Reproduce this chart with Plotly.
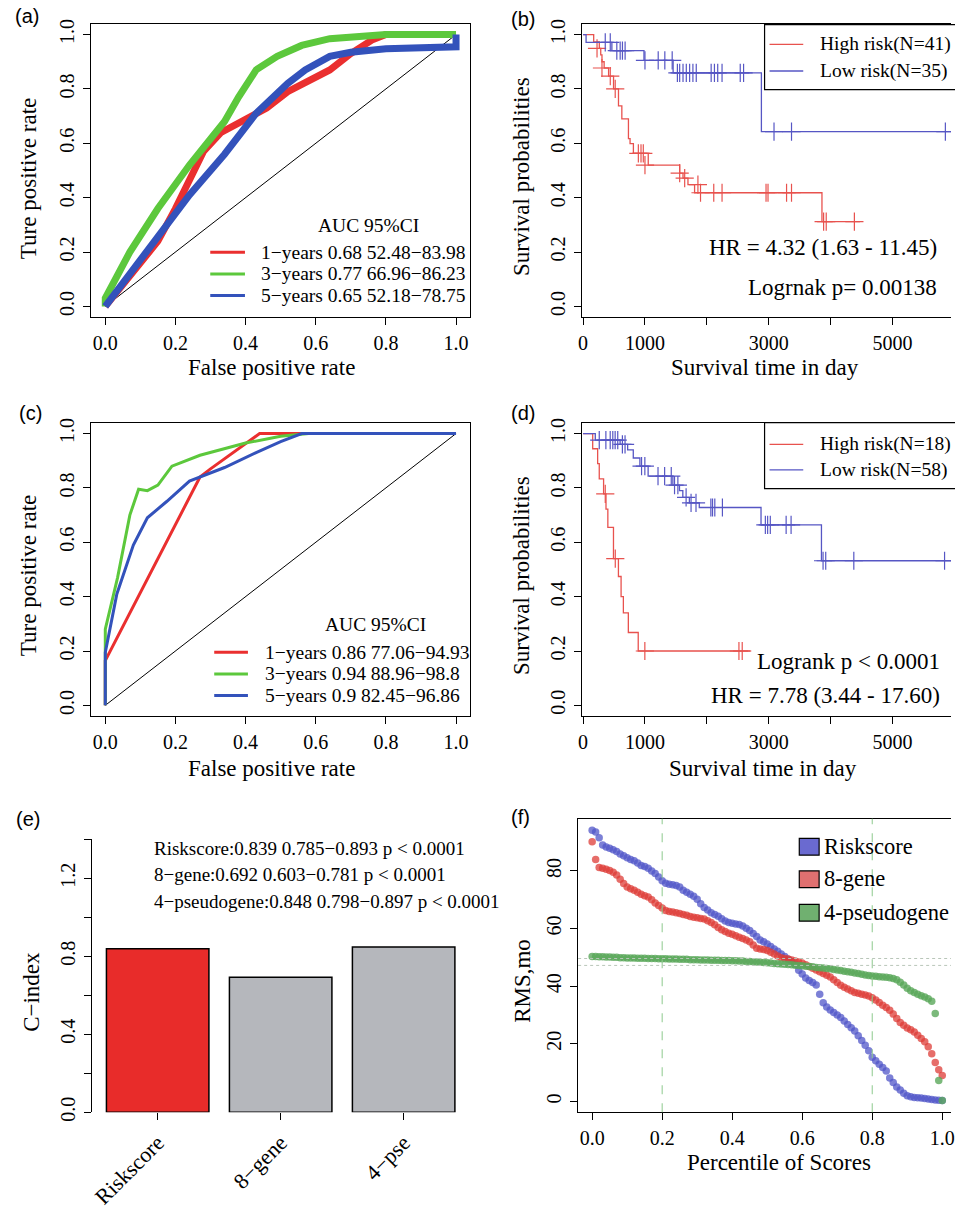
import plotly.graph_objects as go

W, H = 955, 1209
SERIF = "Liberation Serif, Times New Roman, serif"
SANS = "Liberation Sans, Arial, sans-serif"

# ---------------- (a) ROC, training set ----------------
roc_a_fpr_1y = [0, 0.05, 0.1, 0.15, 0.2, 0.25, 0.28, 0.33, 0.4, 0.46, 0.52, 0.58, 0.64, 0.7, 0.76, 0.8, 1.0]
roc_a_tpr_1y = [0, 0.08, 0.16, 0.24, 0.36, 0.5, 0.57, 0.64, 0.69, 0.73, 0.79, 0.83, 0.87, 0.93, 0.98, 1.0, 1.0]
roc_a_fpr_3y = [0, 0, 0.07, 0.15, 0.24, 0.34, 0.38, 0.43, 0.49, 0.56, 0.64, 0.75, 0.8, 1.0]
roc_a_tpr_3y = [0, 0.03, 0.2, 0.36, 0.52, 0.68, 0.77, 0.87, 0.92, 0.96, 0.985, 0.998, 1.0, 1.0]
roc_a_fpr_5y = [0, 0.15, 0.24, 0.34, 0.43, 0.52, 0.57, 0.64, 0.7, 0.8, 0.9, 1.0, 1.0]
roc_a_tpr_5y = [0, 0.255, 0.41, 0.56, 0.71, 0.82, 0.87, 0.92, 0.935, 0.948, 0.953, 0.955, 1.0]
roc_a_labels = ["1\u2212years 0.68 52.48\u221283.98",
                "3\u2212years 0.77 66.96\u221286.23",
                "5\u2212years 0.65 52.18\u221278.75"]

# ---------------- (b) KM, training set ----------------
km_b_high_t = [0, 171, 262, 285, 305, 340, 412, 492, 572, 626, 733, 759, 813, 1053, 1561, 1615, 1695, 1802, 3861, 4476]
km_b_high_s = [1, 0.973, 0.949, 0.925, 0.90, 0.877, 0.847, 0.80, 0.738, 0.69, 0.617, 0.599, 0.563, 0.52, 0.49, 0.472, 0.448, 0.418, 0.312, 0.312]
km_b_high_ct = [225, 305, 439, 519, 893, 936, 973, 1000, 1561, 1642, 1856, 1898, 2112, 2246, 2957, 2989, 3289, 3369, 3888, 3930, 4385]
km_b_high_cs = [0.949, 0.877, 0.847, 0.80, 0.563, 0.563, 0.563, 0.52, 0.49, 0.472, 0.448, 0.418, 0.418, 0.418, 0.418, 0.418, 0.418, 0.418, 0.312, 0.312, 0.312]
km_b_low_t = [0, 48, 465, 984, 1455, 2882, 5947]
km_b_low_s = [1, 0.971, 0.941, 0.905, 0.859, 0.643, 0.643]
km_b_low_ct = [358, 439, 545, 599, 636, 679, 1000, 1214, 1321, 1440, 1524, 1561, 1615, 1668, 1722, 1775, 1829,
               2070, 2123, 2176, 2246, 2540, 2594, 3086, 3369, 5856]
km_b_low_cs = [0.971, 0.971, 0.941, 0.941, 0.941, 0.941, 0.905, 0.905, 0.905, 0.905, 0.859, 0.859, 0.859, 0.859,
               0.859, 0.859, 0.859, 0.859, 0.859, 0.859, 0.859, 0.859, 0.859, 0.643, 0.643, 0.643]

# ---------------- (c) ROC, validation set ----------------
roc_c_fpr_1y = [0, 0, 0.27, 0.3, 0.44, 1.0]
roc_c_tpr_1y = [0, 0.165, 0.84, 0.87, 1.0, 1.0]
roc_c_fpr_3y = [0, 0, 0.035, 0.07, 0.095, 0.12, 0.15, 0.19, 0.27, 0.4, 0.5, 0.58, 1.0]
roc_c_tpr_3y = [0, 0.28, 0.47, 0.7, 0.795, 0.79, 0.81, 0.88, 0.92, 0.965, 0.99, 1.0, 1.0]
roc_c_fpr_5y = [0, 0, 0.033, 0.08, 0.12, 0.175, 0.24, 0.34, 0.43, 0.5, 0.56, 1.0]
roc_c_tpr_5y = [0, 0.195, 0.41, 0.59, 0.69, 0.75, 0.825, 0.875, 0.93, 0.97, 1.0, 1.0]
roc_c_labels = ["1\u2212years 0.86 77.06\u221294.93",
                "3\u2212years 0.94 88.96\u221298.8",
                "5\u2212years 0.9 82.45\u221296.86"]

# ---------------- (d) KM, validation set ----------------
km_d_high_t = [0, 155, 235, 261, 331, 370, 400, 491, 571, 614, 651, 731, 891, 2705]
km_d_high_s = [1, 0.944, 0.889, 0.833, 0.778, 0.722, 0.655, 0.54, 0.474, 0.40, 0.34, 0.268, 0.2, 0.2]
km_d_high_ct = [358, 520, 998, 2519, 2572]
km_d_high_cs = [0.778, 0.54, 0.2, 0.2, 0.2]
km_d_low_t = [0, 197, 598, 720, 811, 918, 1051, 1451, 1558, 1612, 1718, 1878, 2876, 3853, 5947]
km_d_low_s = [1, 0.976, 0.96, 0.94, 0.91, 0.88, 0.843, 0.81, 0.79, 0.765, 0.745, 0.728, 0.664, 0.532, 0.532]
km_d_low_ct = [261, 368, 438, 480, 518, 560, 635, 678, 945, 998, 1211, 1318, 1425, 1478, 1532, 1665, 1745, 1825,
               2065, 2092, 2129, 2252, 2946, 2983, 3026, 3282, 3362, 3879, 3922, 4376, 5843]
km_d_low_cs = [0.976, 0.976, 0.976, 0.976, 0.976, 0.976, 0.96, 0.96, 0.88, 0.88, 0.843, 0.843, 0.843, 0.81, 0.81,
               0.765, 0.745, 0.745, 0.728, 0.728, 0.728, 0.728, 0.664, 0.664, 0.664, 0.664, 0.664, 0.532, 0.532,
               0.532, 0.532]

# ---------------- (e) C-index ----------------
cindex_names = ["Riskscore", "8\u2212gene", "4\u2212pse"]
cindex_values = [0.839, 0.692, 0.848]
cindex_notes = ["Riskscore:0.839 0.785\u22120.893 p < 0.0001",
                "8\u2212gene:0.692 0.603\u22120.781 p < 0.0001",
                "4\u2212pseudogene:0.848 0.798\u22120.897 p < 0.0001"]

# ---------------- (f) RMS curves ----------------
percentile = [i / 100 for i in range(101)]
rms_riskscore = [94.1, 93.5, 91.5, 89.0, 88.3, 87.9, 87.3, 86.7, 85.9, 85.3,
                 84.6, 84.0, 83.5, 82.7, 81.9, 81.5, 80.9, 80.0, 79.1, 77.9,
                 76.6, 75.7, 75.4, 75.2, 74.9, 74.4, 73.3, 72.6, 71.9, 71.2,
                 70.2, 68.6, 67.3, 66.4, 65.5, 64.9, 64.3, 63.4, 62.6, 62.1,
                 61.8, 61.6, 61.4, 60.9, 60.1, 59.3, 58.3, 57.2, 56.0, 55.4,
                 54.6, 53.8, 52.9, 52.1, 51.2, 50.3, 49.3, 48.6, 47.6, 45.5,
                 44.2, 42.8, 42.0, 41.3, 40.4, 37.2, 34.2, 32.8, 31.7, 30.9,
                 30.0, 29.1, 27.9, 26.7, 25.6, 24.4, 22.8, 21.1, 19.5, 17.6,
                 15.3, 14.1, 12.9, 11.8, 10.6, 8.1, 6.6, 5.0, 4.0, 2.8,
                 2.0, 1.6, 1.4, 1.3, 1.2, 1.0, 0.8, 0.7, 0.5, 0.4, 0.3]
rms_8gene = [90.1, 84.0, 81.2, 80.9, 80.6, 80.1, 79.5, 78.6, 77.1, 75.6,
             74.4, 73.8, 73.3, 72.6, 71.9, 71.4, 70.9, 70.0, 68.9, 68.0,
             67.1, 66.3, 65.9, 65.7, 65.5, 65.2, 64.9, 64.6, 64.2, 63.9,
             63.7, 63.5, 63.3, 62.7, 62.1, 61.3, 60.4, 59.6, 59.0, 58.4,
             58.0, 57.5, 57.0, 56.5, 56.0, 55.4, 54.3, 53.2, 52.9, 52.7,
             52.4, 51.8, 51.2, 50.5, 49.9, 49.6, 49.4, 49.1, 48.7, 48.4,
             48.0, 47.4, 46.8, 46.2, 45.6, 45.0, 44.4, 43.8, 43.2, 42.2,
             41.3, 40.3, 39.6, 39.0, 38.4, 37.8, 37.5, 37.2, 36.9, 36.6,
             36.0, 35.2, 34.3, 33.4, 32.6, 31.6, 30.3, 28.8, 27.4, 26.4,
             25.5, 24.9, 24.1, 23.0, 21.8, 20.7, 19.0, 16.5, 13.5, 11.0, 9.0]
rms_4pseudogene = [50.3, 50.3, 50.2, 50.2, 50.1, 50.1, 50.0, 50.0, 49.9, 49.9,
                   49.8, 49.8, 49.8, 49.7, 49.7, 49.7, 49.6, 49.6, 49.6, 49.5,
                   49.5, 49.5, 49.4, 49.4, 49.4, 49.3, 49.3, 49.3, 49.2, 49.2,
                   49.2, 49.1, 49.1, 49.1, 49.0, 49.0, 49.0, 48.9, 48.9, 48.9,
                   48.8, 48.8, 48.7, 48.7, 48.6, 48.6, 48.5, 48.4, 48.3, 48.2,
                   48.1, 48.0, 47.9, 47.8, 47.7, 47.6, 47.5, 47.4, 47.3, 47.2,
                   47.1, 46.9, 46.8, 46.7, 46.5, 46.4, 46.3, 46.1, 46.0, 45.8,
                   45.6, 45.4, 45.2, 45.0, 44.8, 44.6, 44.4, 44.1, 43.9, 43.7,
                   43.5, 43.4, 43.3, 43.2, 43.1, 42.9, 42.7, 42.2, 41.4, 40.4,
                   39.3, 38.4, 37.8, 37.2, 36.7, 36.2, 35.6, 34.8, 30.5, 7.3, 0.3]
rms_names = ["Riskscore", "8-gene", "4-pseudogene"]
rms_hlines = [49.6, 47.2]
rms_vlines = [0.2, 0.8]

ROC_COLORS = ["#ea2f2f", "#5cc83c", "#3352bb"]
KM_RED, KM_BLUE = "#e8524e", "#5656c4"
PT_COLORS = ["rgba(80,85,200,0.75)", "rgba(222,60,55,0.75)", "rgba(90,168,90,0.8)"]
LEG_COLORS = ["#6a6ad0", "#e07070", "#70b070"]


# screen pixel -> paper fraction
def px(x):
    return x / W


def py(y):
    return 1 - y / H


def axis(domain, rng, tickvals, ticktext=None, anchor=None, mirror=False, angle=0, showline=True, size=20):
    d = dict(domain=domain, range=rng, tickvals=tickvals, anchor=anchor,
             showline=showline, linecolor="black", linewidth=1, mirror=mirror,
             ticks="outside", ticklen=7, tickwidth=1, tickcolor="black",
             showgrid=False, zeroline=False, tickangle=angle,
             tickfont=dict(family=SERIF, size=size, color="black"),
             ticklabeloverflow="allow", ticklabelstandoff=1)
    if ticktext is not None:
        d["ticktext"] = ticktext
    return d


fig = go.Figure()


def text(x, y, s, size=23, anchor="center", angle=0, family=SERIF):
    fig.add_annotation(x=px(x), y=py(y), xref="paper", yref="paper", text=s, showarrow=False,
                       xanchor=anchor, yanchor="middle", textangle=angle, borderpad=0,
                       font=dict(family=family, size=size, color="black"))


def seg(x0, y0, x1, y1, color, width):
    fig.add_shape(type="line", xref="paper", yref="paper", x0=px(x0), y0=py(y0), x1=px(x1), y1=py(y1),
                  line=dict(color=color, width=width))


# ROC panels
for xa, ya, fprs, tprs, lw in [
    ("x", "y", [roc_a_fpr_1y, roc_a_fpr_3y, roc_a_fpr_5y], [roc_a_tpr_1y, roc_a_tpr_3y, roc_a_tpr_5y], 7),
    ("x3", "y3", [roc_c_fpr_1y, roc_c_fpr_3y, roc_c_fpr_5y], [roc_c_tpr_1y, roc_c_tpr_3y, roc_c_tpr_5y], 3),
]:
    fig.add_trace(go.Scatter(x=[0, 1], y=[0, 1], mode="lines", line=dict(color="black", width=1),
                             xaxis=xa, yaxis=ya))
    for f, t, c in zip(fprs, tprs, ROC_COLORS):
        fig.add_trace(go.Scatter(x=f, y=t, mode="lines", line=dict(color=c, width=lw),
                                 xaxis=xa, yaxis=ya))

# KM panels
for xa, ya, curves in [
    ("x2", "y2", [(km_b_high_t, km_b_high_s, km_b_high_ct, km_b_high_cs, KM_RED),
                  (km_b_low_t, km_b_low_s, km_b_low_ct, km_b_low_cs, KM_BLUE)]),
    ("x4", "y4", [(km_d_high_t, km_d_high_s, km_d_high_ct, km_d_high_cs, KM_RED),
                  (km_d_low_t, km_d_low_s, km_d_low_ct, km_d_low_cs, KM_BLUE)]),
]:
    for t, s, ct, cs, c in curves:
        fig.add_trace(go.Scatter(x=t, y=s, mode="lines", line=dict(color=c, width=1.3, shape="hv"),
                                 xaxis=xa, yaxis=ya))
        fig.add_trace(go.Scatter(x=ct, y=cs, mode="markers",
                                 marker=dict(symbol="cross-thin", size=13, line=dict(color=c, width=1.2)),
                                 xaxis=xa, yaxis=ya))

# C-index bars
fig.add_trace(go.Bar(x=cindex_names, y=cindex_values, width=1 / 1.2,
                     marker=dict(color=["#e82c2a", "#b5b7bc", "#b5b7bc"], line=dict(color="black", width=1.5)),
                     xaxis="x5", yaxis="y5"))

# RMS points
for vals, c in zip([rms_riskscore, rms_8gene, rms_4pseudogene], PT_COLORS):
    fig.add_trace(go.Scatter(x=percentile, y=vals, mode="markers",
                             marker=dict(color=c, size=7.5, line=dict(width=0)),
                             xaxis="x6", yaxis="y6"))

xa_dom = [px(88), px(470)]
xb_dom = [px(583), 1.0]
top_dom = [py(318), py(20)]
mid_dom = [py(723), py(425)]
roc_ticks = [0, 0.2, 0.4, 0.6, 0.8, 1.0]
roc_text = ["0.0", "0.2", "0.4", "0.6", "0.8", "1.0"]
km_ticks = [0, 1000, 2000, 3000, 4000, 5000]
km_text = ["0", "1000", "", "3000", "", "5000"]

fig.update_layout(
    width=W, height=H, margin=dict(l=0, r=0, t=0, b=0),
    paper_bgcolor="white", plot_bgcolor="white", showlegend=False,
    xaxis=axis(xa_dom, [-0.04, 1.04], roc_ticks, roc_text, "y", True),
    yaxis=axis(top_dom, [-0.04, 1.04], roc_ticks, roc_text, "x", True, -90),
    xaxis2=axis(xb_dom, [-16, 5947], km_ticks, km_text, "y2", True),
    yaxis2=axis(top_dom, [-0.04, 1.04], roc_ticks, roc_text, "x2", False, -90),
    xaxis3=axis(xa_dom, [-0.04, 1.04], roc_ticks, roc_text, "y3", True),
    yaxis3=axis(mid_dom, [-0.04, 1.04], roc_ticks, roc_text, "x3", True, -90),
    xaxis4=axis(xb_dom, [-16, 5947], km_ticks, km_text, "y4", True),
    yaxis4=axis(mid_dom, [-0.04, 1.04], roc_ticks, roc_text, "x4", False, -90),
    xaxis5=axis([px(89), px(470)], [-0.532, 2.54], cindex_names, None, "y5", False, -45, False, 22),
    yaxis5=axis([py(1125), py(848)], [0, 1.4], [0, 0.2, 0.4, 0.6, 0.8, 1.0, 1.2, 1.4],
                ["0.0", "", "0.4", "", "0.8", "", "1.2", ""], "x5", False, -90),
    xaxis6=axis([px(579), 1.0], [-0.04, 1.025], roc_ticks, roc_text, "y6", True),
    yaxis6=axis([py(1125), py(827)], [-3.76, 98.12], [0, 20, 40, 60, 80], None, "x6", False, -90),
)
fig.layout.xaxis5.type = "category"

# reference lines in (f)
for v in rms_vlines:
    fig.add_shape(type="line", xref="x6", yref="y6 domain", x0=v, x1=v, y0=0, y1=1,
                  line=dict(color="#8cc98c", width=1, dash="dash"))
for h in rms_hlines:
    fig.add_shape(type="line", xref="x6 domain", yref="y6", x0=0, x1=1, y0=h, y1=h,
                  line=dict(color="#b9c6b9", width=1, dash="dot"))

# ROC legends
for base, lab, ys, lx0, lx1, tx in [
    ((368, 225), roc_a_labels, [252, 274, 296], 208, 243, 258),
    ((375, 630), roc_c_labels, [658, 680, 702], 212, 246, 262),
]:
    text(base[0], base[1], "AUC 95%CI", 19.5)
    for s, yy, c in zip(lab, ys, ROC_COLORS):
        seg(lx0, yy, lx1, yy, c, 3)
        text(tx, yy, s, 19.5, "left")

# KM legends
for top, bot, rows, labels in [
    (21, 87, [41, 68], ["High risk(N=41)", "Low risk(N=35)"]),
    (425, 492, [447, 473], ["High risk(N=18)", "Low risk(N=58)"]),
]:
    fig.add_shape(type="rect", xref="paper", yref="paper", x0=px(767), x1=px(975), y0=py(bot), y1=py(top),
                  line=dict(color="black", width=1.2), fillcolor="white", layer="above")
    for yy, s, c in zip(rows, labels, [KM_RED, KM_BLUE]):
        seg(772, yy, 806, yy, c, 1.3)
        text(822, yy, s, 19.5, "left")

text(942, 247, "HR = 4.32 (1.63 - 11.45)", 23, "right")
text(942, 288, "Logrnak p= 0.00138", 23, "right")
text(945, 667, "Logrank p < 0.0001", 23, "right")
text(945, 702, "HR = 7.78 (3.44 - 17.60)", 23, "right")

# C-index notes
for yy, s in zip([857, 884, 911], cindex_notes):
    text(150, yy, s, 19, "left")

# RMS legend
for (y0, y1), s, c, yy in zip([(847, 864), (880, 897), (914, 931)], rms_names, LEG_COLORS, [855, 888, 922]):
    fig.add_shape(type="rect", xref="paper", yref="paper", x0=px(802), x1=px(822), y0=py(y1), y1=py(y0),
                  line=dict(color="black", width=1.2), fillcolor=c)
    text(826, yy, s, 22.5, "left")

# axis titles
text(270, 369, "False positive rate", 23)
text(25, 177, "Ture positive rate", 23, angle=-90)
text(767, 369, "Survival time in day", 23)
text(522, 175, "Survival probabilities", 23, angle=-90)
text(270, 776, "False positive rate", 23)
text(25, 580, "Ture positive rate", 23, angle=-90)
text(765, 776, "Survival time in day", 23)
text(522, 580, "Survival probabilities", 23, angle=-90)
text(27, 1003, "C\u2212index", 23, angle=-90)
text(782, 1176, "Percentile of Scores", 23)
text(523, 992, "RMS,mo", 23, angle=-90)

# panel letters
for x, y, s in [(23, 12, "(a)"), (523, 15, "(b)"), (27, 415, "(c)"), (523, 415, "(d)"),
                (24, 827, "(e)"), (521, 825, "(f)")]:
    text(x, y, s, 20, family=SANS)

# drop the page's default body margin so the figure sits at the window origin
fig.write_html("out.html", config={"displayModeBar": False},
               post_script="document.body.style.margin='0';")
